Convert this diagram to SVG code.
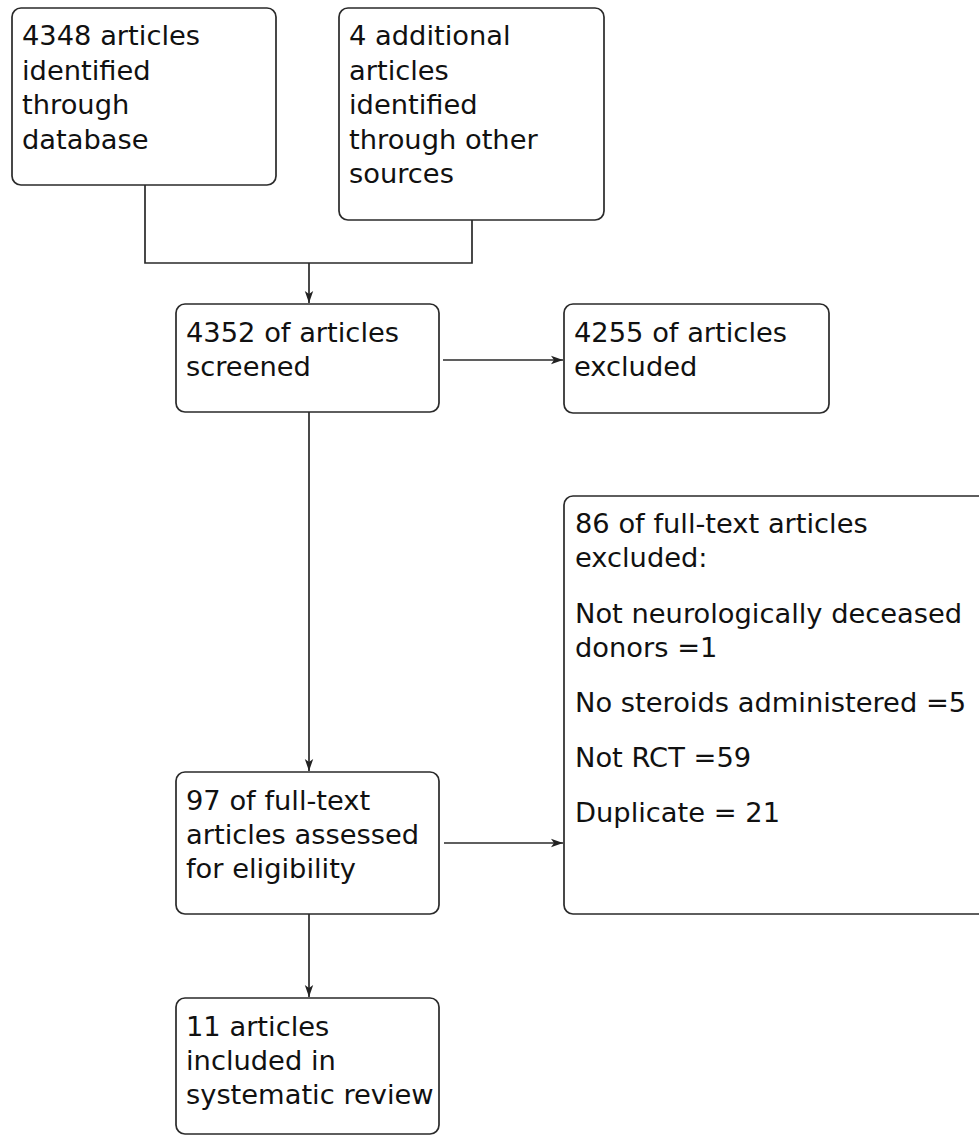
<svg xmlns="http://www.w3.org/2000/svg" width="979" height="1138" viewBox="0 0 979 1138">
<style>
.box{fill:#fff;stroke:#2a2a2a;stroke-width:1.7}
.t{font-family:"DejaVu Sans",sans-serif;font-size:27.3px;fill:#111}
.c{fill:none;stroke:#2a2a2a;stroke-width:1.7}
</style>
<defs>
<marker id="ah" markerWidth="13" markerHeight="10" refX="12" refY="5" orient="auto" markerUnits="userSpaceOnUse">
<path d="M0,0.8 L12,5 L0,9.2 L3,5 Z" fill="#222"/>
</marker>
</defs>
<rect width="979" height="1138" fill="#fff"/>
<g id="connectors">
<path class="c" d="M145,185 V263 H472 V220"/>
<path class="c" d="M309,263 V303" marker-end="url(#ah)"/>
<path class="c" d="M443,360 H563" marker-end="url(#ah)"/>
<path class="c" d="M309,412 V771" marker-end="url(#ah)"/>
<path class="c" d="M444,843 H563" marker-end="url(#ah)"/>
<path class="c" d="M309,914 V997" marker-end="url(#ah)"/>
</g>
<g id="n1">
<rect class="box" x="12" y="8" width="264" height="177" rx="9"/>
<text class="t" x="22" y="45">4348 articles</text>
<text class="t" x="22" y="79.5">identified</text>
<text class="t" x="22" y="114">through</text>
<text class="t" x="22" y="148.5">database</text>
</g>
<g id="n2">
<rect class="box" x="339" y="8" width="265" height="212" rx="9"/>
<text class="t" x="349" y="45">4 additional</text>
<text class="t" x="349" y="79.5">articles</text>
<text class="t" x="349" y="114">identified</text>
<text class="t" x="349" y="148.5">through other</text>
<text class="t" x="349" y="183">sources</text>
</g>
<g id="n3">
<rect class="box" x="176" y="304" width="263" height="108" rx="9"/>
<text class="t" x="186" y="342">4352 of articles</text>
<text class="t" x="186" y="376">screened</text>
</g>
<g id="n4">
<rect class="box" x="564" y="304" width="265" height="109" rx="9"/>
<text class="t" x="574" y="342">4255 of articles</text>
<text class="t" x="574" y="376">excluded</text>
</g>
<g id="n5">
<rect class="box" x="564" y="496" width="430" height="418" rx="9"/>
<text class="t" x="575" y="533">86 of full-text articles</text>
<text class="t" x="575" y="567">excluded:</text>
<text class="t" x="575" y="623">Not neurologically deceased</text>
<text class="t" x="575" y="657">donors =1</text>
<text class="t" x="575" y="712">No steroids administered =5</text>
<text class="t" x="575" y="767">Not RCT =59</text>
<text class="t" x="575" y="822">Duplicate = 21</text>
</g>
<g id="n6">
<rect class="box" x="176" y="772" width="263" height="142" rx="9"/>
<text class="t" x="186" y="810">97 of full-text</text>
<text class="t" x="186" y="844">articles assessed</text>
<text class="t" x="186" y="878">for eligibility</text>
</g>
<g id="n7">
<rect class="box" x="176" y="998" width="263" height="136" rx="9"/>
<text class="t" x="186" y="1036">11 articles</text>
<text class="t" x="186" y="1070">included in</text>
<text class="t" x="186" y="1104">systematic review</text>
</g>
</svg>
